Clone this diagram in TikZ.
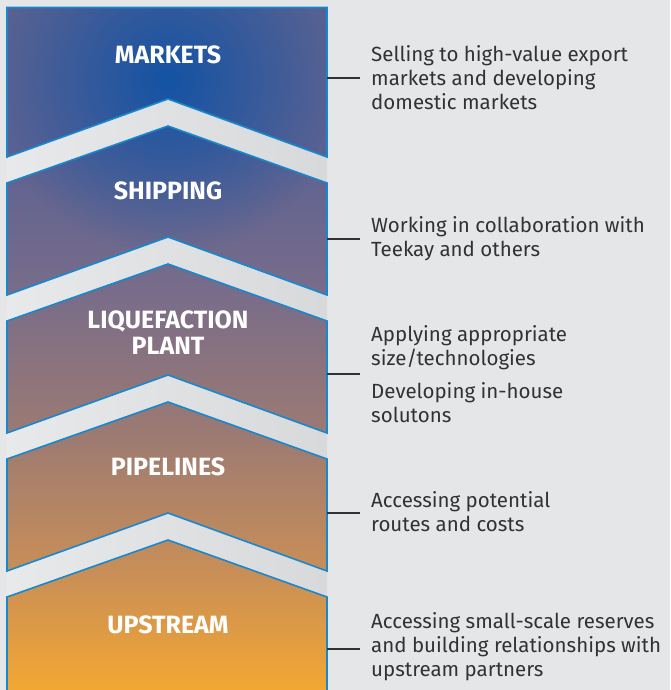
\documentclass[tikz,border=0pt]{standalone}
\usepackage{fontspec}
\setmainfont{Fira Sans}
\usetikzlibrary{fadings}
\definecolor{bgcol}{RGB}{229,230,232}
\definecolor{gapl}{RGB}{232,233,235}
\definecolor{gapr}{RGB}{216,217,219}
\definecolor{edgecol}{RGB}{24,136,206}
\definecolor{txtcol}{RGB}{50,50,52}
\definecolor{glowcol}{RGB}{16,82,165}
\definecolor{c0}{RGB}{243,167,50}
\definecolor{c1}{RGB}{200,142,88}
\definecolor{c2}{RGB}{155,122,115}
\definecolor{c3}{RGB}{120,108,138}
\definecolor{c4}{RGB}{92,98,146}
\definecolor{c5}{RGB}{90,98,145}
\pgfdeclareverticalshading{stackshade}{100bp}{color(0bp)=(c0); color(25bp)=(c0);
  color(33.7bp)=(c1); color(43.8bp)=(c2); color(54bp)=(c3); color(64bp)=(c4);
  color(75bp)=(c5); color(100bp)=(c5)}
\tikzfading[name=glowfade,inner color=transparent!0,outer color=transparent!100]
\tikzset{
  title/.style={text=white,font=\bfseries\fontsize{25}{26}\selectfont,align=center},
  desc/.style={text=txtcol,font=\fontsize{20.5}{24}\selectfont,align=left,anchor=west,inner xsep=11pt,inner ysep=0pt},
  edge/.style={draw=edgecol,line width=1.6pt,line join=miter},
  tick/.style={draw=txtcol,line width=1.1pt}
}
\begin{document}
\begin{tikzpicture}[x=1pt,y=-1pt]
\useasboundingbox (0,0) rectangle (670,690);
\fill[bgcol] (0,0) rectangle (670,690);
% bands between the blocks
\foreach \t in {99,237,375,512}
  \shade[left color=gapl,right color=gapr] (7,\t+58) -- (168,\t) -- (327,\t+58) -- (327,\t+85) -- (168,\t+27) -- (7,\t+85) -- cycle;
% the five blocks, one shading
\begin{scope}
\clip (7,7.5) -- (327,7.5) -- (327,157) -- (168,99) -- (7,157) -- cycle
  \foreach \t in {126,264,402} {(7,\t+57) -- (168,\t) -- (327,\t+57) -- (327,\t+169) -- (168,\t+111) -- (7,\t+169) -- cycle}
  (7,597) -- (168,540) -- (327,597) -- (327,692) -- (7,692) -- cycle;
\shade[shading=stackshade] (0,0) rectangle (340,690);
\fill[glowcol,path fading=glowfade,fill opacity=0.95] (168,80) circle (175);
\end{scope}
\draw[edge] (7,7.5) -- (327,7.5) -- (327,157) -- (168,99) -- (7,157) -- cycle;
\foreach \t in {126,264,402}
  \draw[edge] (7,\t+57) -- (168,\t) -- (327,\t+57) -- (327,\t+169) -- (168,\t+111) -- (7,\t+169) -- cycle;
\draw[edge] (7,700) -- (7,597) -- (168,540) -- (327,597) -- (327,700);
% titles
\node[title] (mk) at (168,55) {MARKETS};
\node[title] (sh) at (168,191) {SHIPPING};
\node[title] (lq) at (168,333) {LIQUEFACTION\\PLANT};
\node[title] (pl) at (168,467) {PIPELINES};
\node[title] (us) at (168,625) {UPSTREAM};
% notes on the right
\node[desc] (d-mk) at (360,78) {Selling to high-value export\\markets and developing\\domestic markets};
\node[desc] (d-sh) at (360,239) {Working in collaboration with\\Teekay and others};
\node[desc] (d-lq) at (360,374) {Applying appropriate\\size/technologies\\[9pt]Developing in-house\\solutons};
\node[desc] (d-pl) at (360,512) {Accessing potential\\routes and costs};
\node[desc] (d-us) at (360,647) {Accessing small-scale reserves\\and building relationships with\\upstream partners};
\coordinate (e-mk) at (327,78);
\coordinate (e-sh) at (327,239);
\coordinate (e-lq) at (327,374);
\coordinate (e-pl) at (327,513);
\coordinate (e-us) at (327,649);
\foreach \n in {mk,sh,lq,pl,us}
  \draw[tick] (e-\n) -- (d-\n.west|-e-\n);
\end{tikzpicture}
\end{document}
